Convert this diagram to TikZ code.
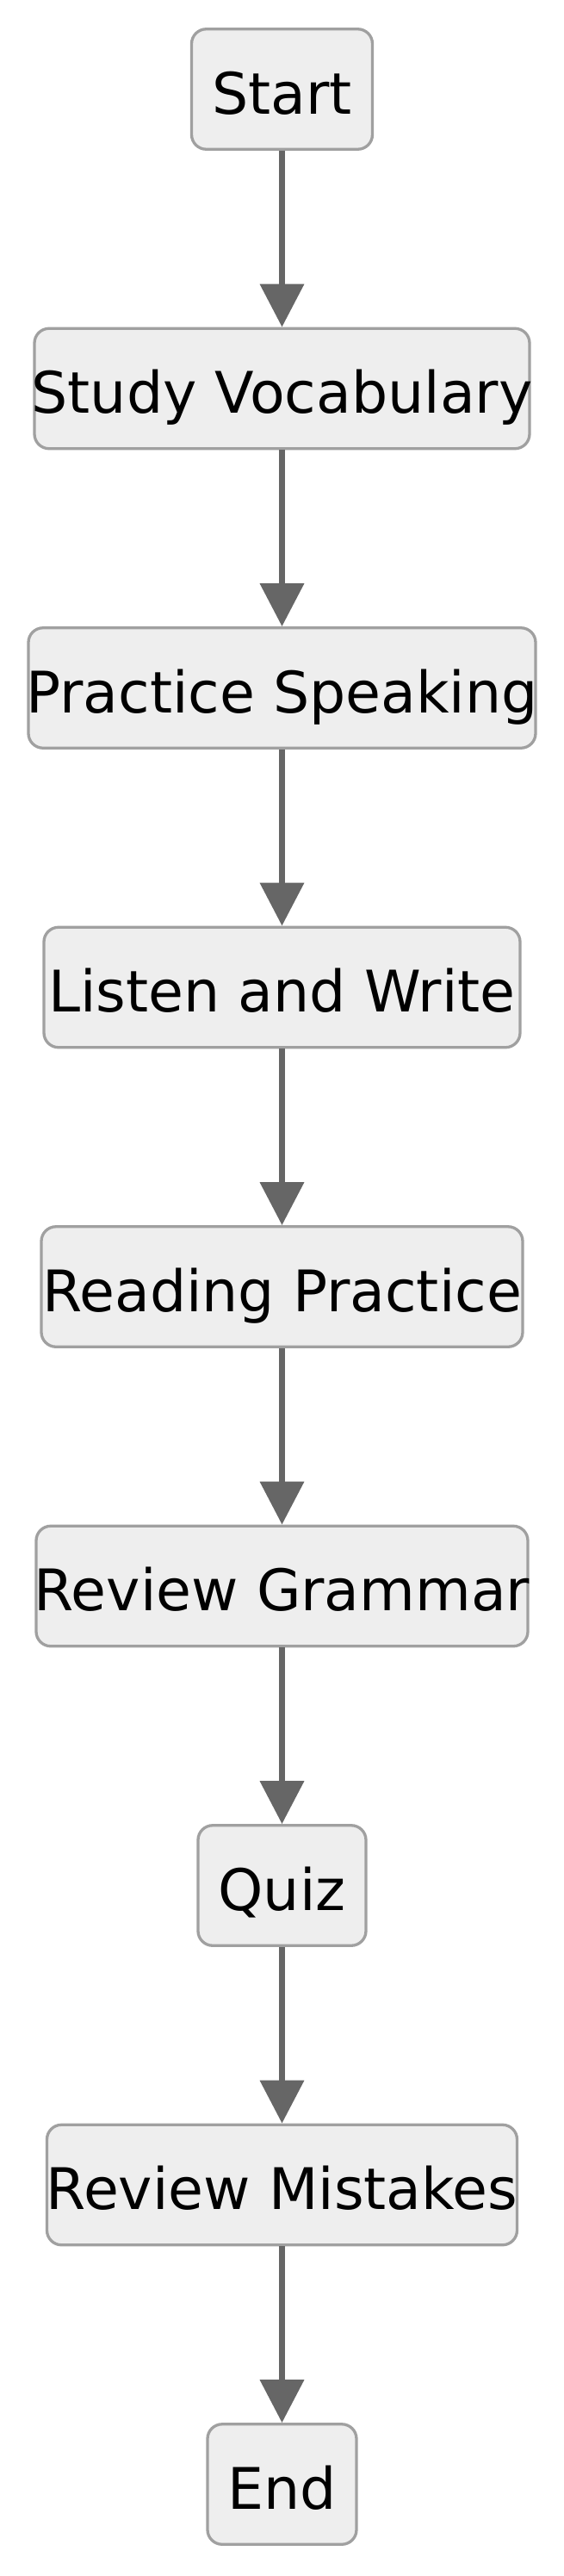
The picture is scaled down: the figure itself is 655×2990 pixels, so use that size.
\documentclass[tikz,border=0pt]{standalone}
\usepackage{fontspec}
\setmainfont{DejaVu Sans}
\usetikzlibrary{arrows.meta}
\definecolor{boxfill}{HTML}{EEEEEE}
\definecolor{boxline}{HTML}{A0A0A0}
\definecolor{arrowcol}{HTML}{666666}
\tikzset{
  stepbox/.style={draw=boxline, fill=boxfill, line width=3.3pt, rounded corners=17pt,
    inner sep=0pt, minimum height=139.5pt, text height=57pt, text depth=0pt,
    font=\fontsize{66.5}{80}\selectfont},
  flow/.style={draw=arrowcol, line width=7.2pt, -{Triangle[width=50pt,length=50pt]}}
}
\newcommand{\bx}[1]{\makebox[0pt]{#1}}
\begin{document}
\begin{tikzpicture}[x=1pt,y=-1pt]
\useasboundingbox (0,0) rectangle (655,2990);
\node[stepbox, minimum width=210] (n1) at (327.5,103.5) {\bx{Start}};
\node[stepbox, minimum width=575] (n2) at (327.5,451) {\bx{Study Vocabulary}};
\node[stepbox, minimum width=589] (n3) at (327.5,798.5) {\bx{Practice Speaking}};
\node[stepbox, minimum width=553] (n4) at (327.5,1146) {\bx{Listen and Write}};
\node[stepbox, minimum width=559] (n5) at (327.5,1493.5) {\bx{Reading Practice}};
\node[stepbox, minimum width=571] (n6) at (327.5,1841) {\bx{Review Grammar}};
\node[stepbox, minimum width=195] (n7) at (327.5,2188.5) {\bx{Quiz}};
\node[stepbox, minimum width=546] (n8) at (327.5,2536) {\bx{Review Mistakes}};
\node[stepbox, minimum width=173] (n9) at (327.5,2883.5) {\bx{End}};
\foreach \a/\b in {n1/n2,n2/n3,n3/n4,n4/n5,n5/n6,n6/n7,n7/n8,n8/n9}
  \draw[flow] (\a.south) -- (\b.north);
\end{tikzpicture}
\end{document}
